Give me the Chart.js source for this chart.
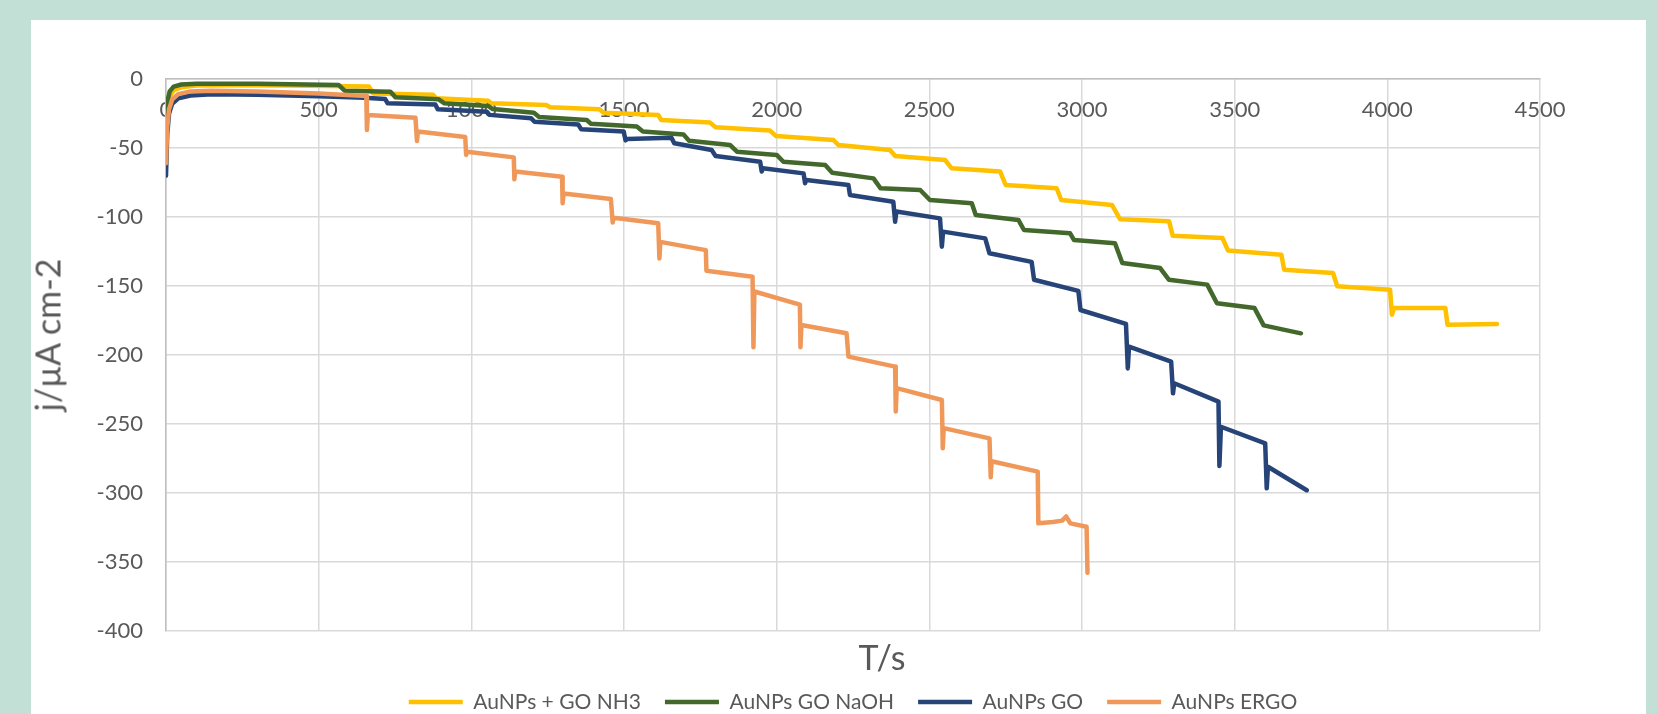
<!DOCTYPE html>
<html>
<head>
<meta charset="utf-8">
<script src="https://cdn.jsdelivr.net/npm/chart.js@4.4.1/dist/chart.umd.min.js"></script>
<style>
  body { margin: 0; background: #c2e0d5; overflow: hidden; width: 1658px; height: 714px; position: relative; }
  #panel { position: absolute; left: 31px; top: 20px; width: 1615px; height: 720px; background: #fff; }
  #chart { position: absolute; left: 0; top: 0; }
  .ttl { position: absolute; font-family: Lato, sans-serif; color: #595959; font-size: 34px; white-space: nowrap; }
  #ytitle { left: 47px; top: 335px; transform: translate(-50%, -50%) rotate(-90deg); }
  #xtitle { left: 882px; top: 656px; transform: translate(-50%, -50%); }
</style>
</head>
<body>
<div id="panel"></div>
<canvas id="chart" width="1658" height="730"></canvas>
<div class="ttl" id="ytitle">j/µA cm-2</div>
<div class="ttl" id="xtitle">T/s</div>
<script>
// series names
const seriesNames = ['AuNPs + GO NH3', 'AuNPs GO NaOH', 'AuNPs GO', 'AuNPs ERGO'];

// AuNPs + GO NH3  (time s / current density µA cm-2)
const nh3T = [0, 5, 12, 25, 50, 100, 200, 400, 600, 665, 678, 875, 885, 1055, 1065, 1245, 1258, 1420, 1433, 1612,
    1622, 1782, 1800, 1978, 1998, 2186, 2202, 2371, 2388, 2552, 2573, 2732, 2750, 2917, 2932, 3098, 3125, 3285,
    3297, 3460, 3478, 3653, 3662, 3822, 3836, 4009, 4015, 4022, 4190, 4197, 4359];
const nh3J = [-40, -22, -13, -8, -6, -4.8, -4.5, -4.8, -5.2, -5.5, -10.5, -11.5, -14, -15.7, -17.6, -18.8, -20.5, -22, -24.4, -26,
    -29.7, -31.6, -35, -37.4, -41.3, -44.2, -47.8, -51.4, -55.8, -58.7, -64.7, -67.1, -76.8, -79.2, -87.7, -91.3, -101.7, -103,
    -113.5, -115.2, -124.2, -127.3, -138.2, -140.6, -150.2, -152.7, -170.8, -166, -166, -178, -177.5];

// AuNPs GO NaOH
const naohT = [0, 5, 12, 25, 50, 100, 300, 565, 585, 735, 752, 893, 912, 1055, 1070, 1205, 1222, 1378, 1392, 1542,
    1562, 1695, 1713, 1847, 1870, 2000, 2022, 2159, 2182, 2317, 2340, 2470, 2502, 2639, 2652, 2792, 2810, 2961,
    2974, 3108, 3132, 3256, 3285, 3410, 3442, 3565, 3595, 3717];
const naohJ = [-32, -16, -9, -5.5, -4, -3.5, -3.5, -4.3, -8.5, -9.2, -13.3, -14.7, -17.6, -19.5, -21.8, -24.5, -27.5, -29.7, -32.5, -34.5,
    -38, -40.3, -44.7, -47.8, -52.7, -55, -60, -62.3, -67.9, -72, -79.2, -80.4, -87.7, -90, -98.6, -102.2, -109.4, -111.8,
    -116.7, -119, -133.3, -137, -145.5, -149, -162.5, -166, -178.5, -184.3];

// AuNPs GO
const goT = [0, 4, 10, 20, 40, 80, 150, 300, 500, 650, 718, 726, 882, 890, 1051, 1060, 1196, 1207, 1350, 1360, 1499,
    1505, 1510, 1655, 1665, 1787, 1800, 1946, 1951, 1955, 2088, 2093, 2097, 2235, 2240, 2382, 2388, 2392, 2535,
    2541, 2545, 2683, 2697, 2835, 2843, 2988, 2995, 3144, 3150, 3154, 3292, 3298, 3302, 3447, 3450, 3455, 3600,
    3605, 3609, 3736];
const goJ = [-70, -40, -25, -18, -14, -12, -11, -11.5, -12.5, -13.5, -14.5, -17.6, -18.4, -22, -23.7, -26, -28.5, -31, -33, -36.5, -38,
    -44.5, -43.5, -42.5, -46.6, -51.4, -55.8, -60, -67, -64.7, -68.4, -75.5, -73.2, -76.8, -84, -88.9, -103.4, -96, -101,
    -121.5, -110.6, -115.5, -126.3, -132.5, -145.5, -153.5, -167.4, -177.5, -209.7, -194, -204.8, -227.8, -220.5, -233.8, -280.4, -252, -264,
    -296.6, -281, -298];

// AuNPs ERGO
const ergoT = [0, 4, 10, 20, 40, 80, 150, 300, 500, 656, 658, 661, 817, 822, 825, 980, 983, 986, 1139, 1141, 1144, 1297,
    1299, 1302, 1457, 1463, 1466, 1612, 1616, 1619, 1768, 1770, 1921, 1924, 1927, 2076, 2078, 2081, 2229, 2235, 2388,
    2390, 2393, 2541, 2544, 2547, 2697, 2701, 2704, 2855, 2857, 2905, 2935, 2948, 2962, 3015, 3018];
const ergoJ = [-61, -35, -22, -15, -11, -9, -8.5, -9, -10.5, -12.3, -37, -26, -28, -45, -38, -42, -55, -52.7, -56.8, -72.7, -67, -70.8,
    -90, -83, -87, -104, -100.5, -104.6, -130, -118, -124, -138.9, -143.3, -194.4, -154, -163.5, -194.4, -178.3, -184.3, -201.2, -208.4,
    -241, -224, -232.6, -267.6, -253, -260.4, -288.6, -277, -284.5, -322, -321, -320, -317, -322, -324.4, -357.7];

// axis ticks
const xTicks = [0, 500, 1000, 1500, 2000, 2500, 3000, 3500, 4000, 4500];
const yTicks = [0, -50, -100, -150, -200, -250, -300, -350, -400];

const colors = ['#ffc000', '#43682b', '#264478', '#f0985a'];
const allT = [nh3T, naohT, goT, ergoT];
const allJ = [nh3J, naohJ, goJ, ergoJ];

function toPoints(t, j) {
    return t.map((v, i) => ({ x: v, y: j[i] }));
}

const datasets = seriesNames.map((name, k) => ({
    label: name,
    data: toPoints(allT[k], allJ[k]),
    borderColor: colors[k],
    backgroundColor: colors[k],
    borderWidth: 4.5,
    borderCapStyle: 'round',
    borderJoinStyle: 'round',
    pointRadius: 0,
    tension: 0,
    fill: false,
    order: 4 - k, // excel draws later series on top
}));

Chart.defaults.font.family = 'Lato, sans-serif';
Chart.defaults.color = '#595959';

new Chart(document.getElementById('chart'), {
    type: 'line',
    data: { datasets: datasets },
    options: {
        responsive: false,
        animation: false,
        events: [],
        layout: { padding: { left: 0, right: 118, top: 79, bottom: 7.5 } },
        plugins: {
            tooltip: { enabled: false },
            legend: {
                position: 'bottom',
                fullSize: false,
                labels: {
                    usePointStyle: true,
                    pointStyle: 'line',
                    pointStyleWidth: 54,
                    padding: 24,
                    font: { size: 21 },
                    color: '#595959',
                    sort: (a, b) => a.datasetIndex - b.datasetIndex,
                },
            },
        },
        scales: {
            x: {
                type: 'linear',
                position: { y: 0 },
                min: 0,
                max: 4500,
                afterBuildTicks: (s) => { s.ticks = xTicks.map(v => ({ value: v })); },
                ticks: { padding: 18, font: { size: 22 }, color: '#595959', maxRotation: 0, callback: (v) => String(v) },
                grid: { color: '#d9d9d9', lineWidth: 1.5, drawTicks: false },
                border: { color: '#bfbfbf', width: 1.5 },
            },
            xb: {
                type: 'linear',
                position: 'bottom',
                min: 0,
                max: 1,
                ticks: { display: false },
                grid: { display: false, drawTicks: false },
                border: { display: false },
                afterFit: (s) => { s.height = 36.5; },
            },
            y: {
                type: 'linear',
                min: -400,
                max: 0,
                afterBuildTicks: (s) => { s.ticks = yTicks.map(v => ({ value: v })); },
                ticks: { padding: 23, font: { size: 22 }, color: '#595959', callback: (v) => String(v) },
                grid: { color: '#d9d9d9', lineWidth: 1.5, drawTicks: false },
                border: { color: '#bfbfbf', width: 1.5 },
                afterFit: (s) => { s.width = 166; },
            },
        },
    },
});
</script>
</body>
</html>
